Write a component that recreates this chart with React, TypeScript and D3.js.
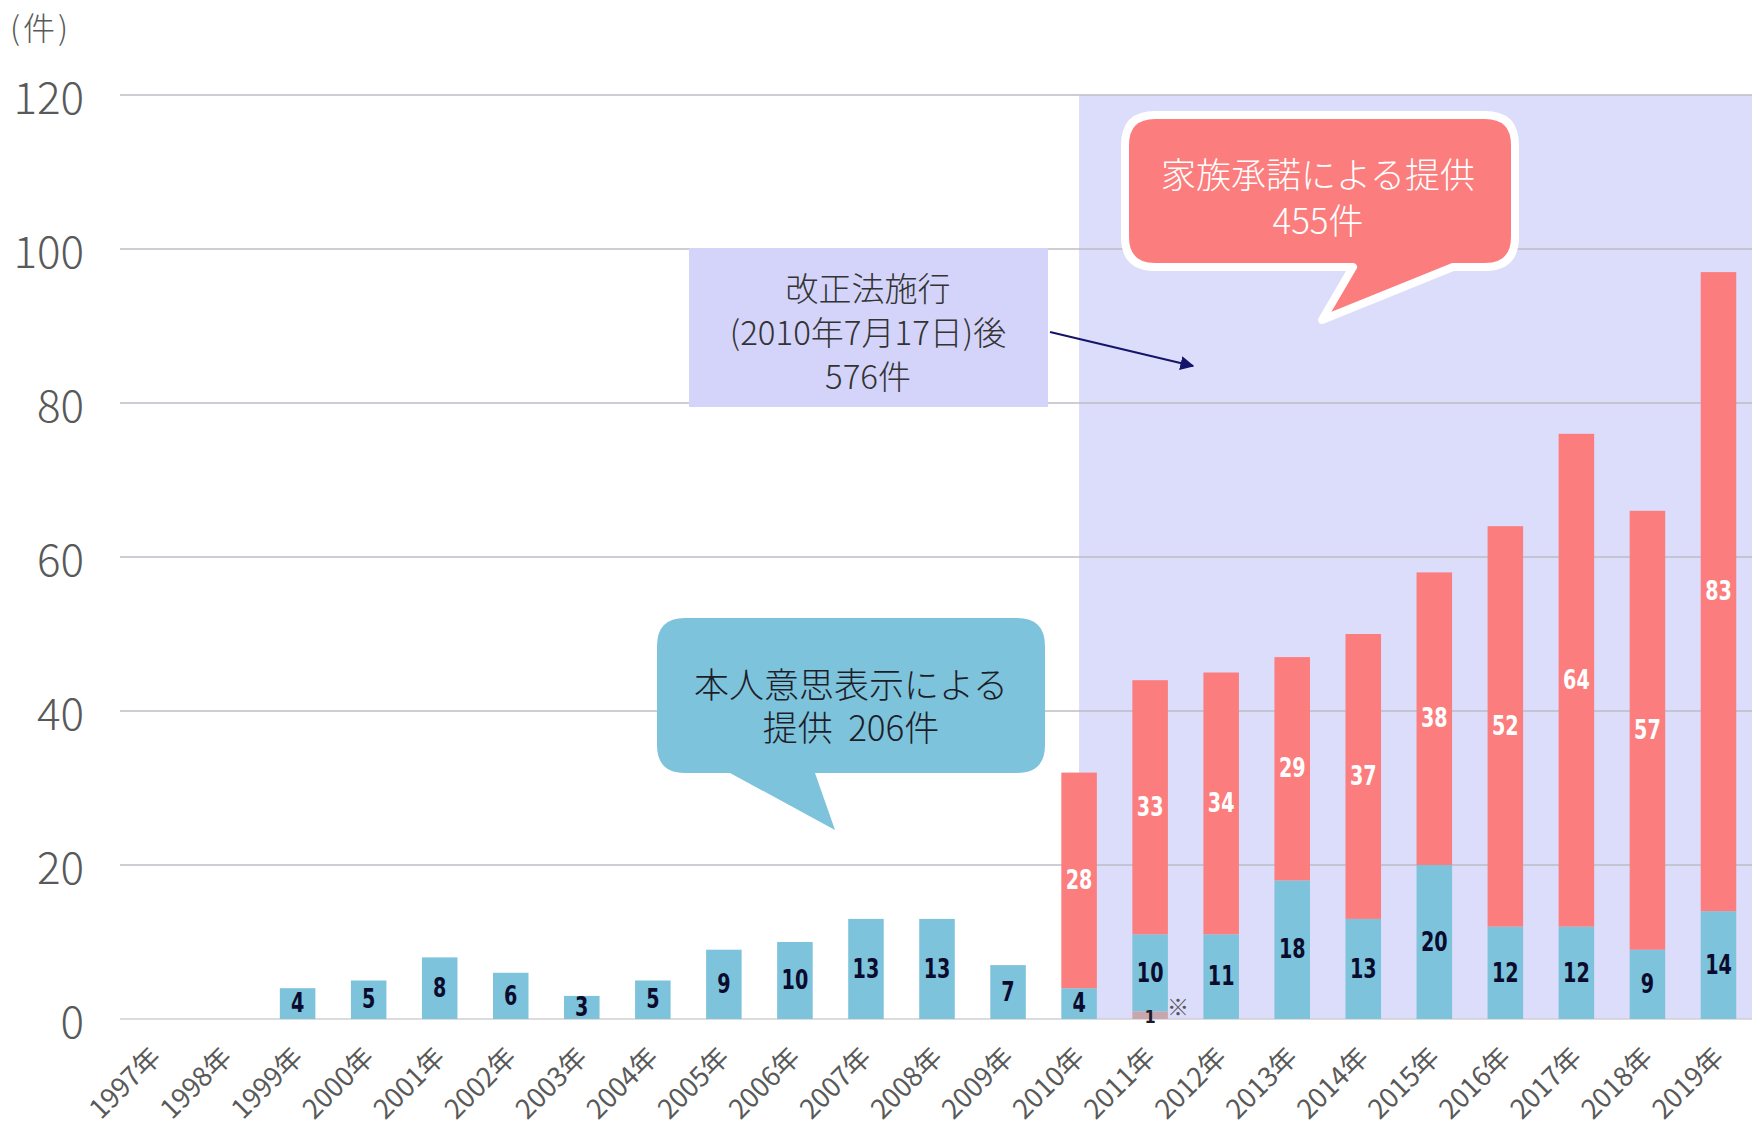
import React from 'react';
import * as d3 from 'd3';

// data
const years = [
  '1997年', '1998年', '1999年', '2000年', '2001年', '2002年', '2003年', '2004年',
  '2005年', '2006年', '2007年', '2008年', '2009年', '2010年', '2011年', '2012年',
  '2013年', '2014年', '2015年', '2016年', '2017年', '2018年', '2019年',
];
const otherValues = [0, 0, 0, 0, 0, 0, 0, 0, 0, 0, 0, 0, 0, 0, 1, 0, 0, 0, 0, 0, 0, 0, 0];
const selfValues = [0, 0, 4, 5, 8, 6, 3, 5, 9, 10, 13, 13, 7, 4, 10, 11, 18, 13, 20, 12, 12, 9, 14];
const familyValues = [0, 0, 0, 0, 0, 0, 0, 0, 0, 0, 0, 0, 0, 28, 33, 34, 29, 37, 38, 52, 64, 57, 83];
const yTicks = [0, 20, 40, 60, 80, 100, 120];
const lawYear = '2010年';

const W = 1752;
const H = 1128;
const margin = { top: 95, right: 0, bottom: 109, left: 120 };

const BLUE = '#7dc3db';
const RED = '#fc7d7d';
const OTHER = '#c9a6ad';
const SHADE = '#dcdcfb';
const JP = "'Noto Sans CJK JP', 'Noto Sans', sans-serif";
const NUM = "'DejaVu Sans Condensed', 'DejaVu Sans', sans-serif";

type Row = { year: string; other: number; self: number; family: number };
const rows: Row[] = years.map((year, i) => ({
  year,
  other: otherValues[i],
  self: selfValues[i],
  family: familyValues[i],
}));

// rounded box with a tail on its bottom edge
function calloutPath(
  x0: number, y0: number, x1: number, y1: number, r: number,
  tailL: number, tailR: number, tipX: number, tipY: number,
) {
  return [
    `M${x0 + r},${y0}`, `H${x1 - r}`, `Q${x1},${y0} ${x1},${y0 + r}`,
    `V${y1 - r}`, `Q${x1},${y1} ${x1 - r},${y1}`,
    `H${tailR}`, `L${tipX},${tipY}`, `L${tailL},${y1}`,
    `H${x0 + r}`, `Q${x0},${y1} ${x0},${y1 - r}`,
    `V${y0 + r}`, `Q${x0},${y0} ${x0 + r},${y0}`, 'Z',
  ].join(' ');
}

const App: React.FC = () => {
  const x = d3.scaleBand<string>()
    .domain(years)
    .range([margin.left, 1754])
    .paddingInner(0.5)
    .paddingOuter(0.25);

  const y = d3.scaleLinear()
    .domain([0, 120])
    .range([H - margin.bottom, margin.top]);

  const keys = ['other', 'self', 'family'];
  const stacked = d3.stack<Row>().keys(keys)(rows);
  const colors: Record<string, string> = { other: OTHER, self: BLUE, family: RED };

  const cx = (yr: string) => (x(yr) as number) + x.bandwidth() / 2;
  const shadeX = cx(lawYear);

  return (
    <svg
      width={W}
      height={H}
      style={{ position: 'absolute', left: 0, top: 0, background: '#fff' }}
    >
      <defs>
        <marker id="arrowHead" viewBox="0 0 10 10" refX="9" refY="5"
          markerWidth="7" markerHeight="7" orient="auto">
          <path d="M0,0 L10,5 L0,10 Z" fill="#14146a" />
        </marker>
      </defs>

      {/* period after the revised law */}
      <rect x={shadeX} y={y(120)} width={W - shadeX} height={y(0) - y(120)} fill={SHADE} />

      {/* gridlines */}
      {yTicks.map(t => (
        <line key={t} x1={margin.left} x2={W} y1={y(t)} y2={y(t)}
          stroke={t === 0 ? '#d0d0d0' : '#bdbdc4'} strokeWidth={1.5} />
      ))}

      {/* y tick labels */}
      {yTicks.map(t => (
        <text key={t} x={84} y={y(t)} textAnchor="end" dominantBaseline="central"
          fontFamily={JP} fontWeight={300} fontSize={44} fill="#595959">{t}</text>
      ))}
      <text x={10} y={40} fontFamily={JP} fontWeight={300} fontSize={32} fill="#595959">
        (<tspan dx={3}>件</tspan><tspan dx={3}>)</tspan>
      </text>

      {/* bars */}
      {stacked.map(layer => (
        <g key={layer.key} fill={colors[layer.key]}>
          {layer.map((d, i) => (
            d[1] - d[0] > 0 ? (
              <rect key={i} x={x(years[i])} width={x.bandwidth()}
                y={y(d[1])} height={y(d[0]) - y(d[1])} />
            ) : null
          ))}
        </g>
      ))}

      {/* value labels */}
      {stacked.map(layer => (
        <g key={layer.key + '-lab'}>
          {layer.map((d, i) => {
            const v = d[1] - d[0];
            if (v <= 0) return null;
            if (layer.key === 'other') {
              return (
                <g key={i}>
                  <text x={cx(years[i])} y={y(0) + 4} textAnchor="middle"
                    fontFamily={NUM} fontWeight={700} fontSize={18} fill="#1a1a2a">{v}</text>
                  <text x={cx(years[i]) + 28} y={y(0) - 4} textAnchor="middle"
                    fontFamily={JP} fontSize={22} fill="#555">※</text>
                </g>
              );
            }
            const lx = cx(years[i]);
            const ly = y((d[0] + d[1]) / 2);
            return (
              <text key={i} transform={`translate(${lx},${ly}) scale(0.82,1)`}
                textAnchor="middle" dominantBaseline="central"
                fontFamily={NUM} fontWeight={700} fontSize={26}
                fill={layer.key === 'family' ? '#ffffff' : '#0b0b2e'}>{v}</text>
            );
          })}
        </g>
      ))}

      {/* x labels */}
      {years.map(yr => (
        <text key={yr} textAnchor="end" fontFamily={JP} fontSize={27} fill="#595959"
          transform={`translate(${cx(yr) + 7},${y(0) + 40}) rotate(-45)`}>{yr}</text>
      ))}

      {/* revised law note */}
      <rect x={689} y={248} width={359} height={159} fill="#d4d4fa" />
      {['改正法施行', '(2010年7月17日)後', '576件'].map((s, i) => (
        <text key={s} x={868} y={287 + i * 44} textAnchor="middle" dominantBaseline="central"
          fontFamily={JP} fontWeight={300} fontSize={33} fill="#333">{s}</text>
      ))}
      <line x1={1050} y1={332} x2={1193} y2={366} stroke="#14146a" strokeWidth={2}
        markerEnd="url(#arrowHead)" />

      {/* own-will callout */}
      <path d={calloutPath(657, 618, 1045, 773, 28, 730, 815, 835, 830)} fill={BLUE} />
      {['本人意思表示による', '提供\u00a0\u00a0206件'].map((s, i) => (
        <text key={s} x={851} y={682 + i * 43} textAnchor="middle" dominantBaseline="central"
          fontFamily={JP} fontWeight={300} fontSize={35} fill="#1e1e2a">{s}</text>
      ))}

      {/* family consent callout */}
      <path d={calloutPath(1125, 115, 1515, 267, 30, 1353, 1453, 1322, 320)}
        fill={RED} stroke="#ffffff" strokeWidth={8} strokeLinejoin="round" />
      {['家族承諾による提供', '455件'].map((s, i) => (
        <text key={s} x={1318} y={172 + i * 46} textAnchor="middle" dominantBaseline="central"
          fontFamily={JP} fontWeight={300} fontSize={35} fill="#ffffff">{s}</text>
      ))}
    </svg>
  );
};

export default App;
